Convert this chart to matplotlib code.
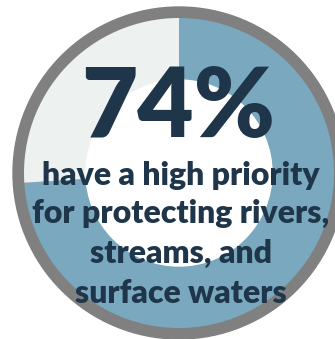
import matplotlib.pyplot as plt
from matplotlib.patches import Circle

# share of respondents
labels = ["High priority", "Other"]
values = [74, 26]
colors = ["#7aa9bf", "#edf1f0"]

headline = "74%"
caption_lines = [
    "have a high priority",
    "for protecting rivers,",
    "streams, and",
    "surface waters",
]

W, H = 335, 339
fig = plt.figure(figsize=(W / 100, H / 100), dpi=100)
ax = fig.add_axes([0, 0, 1, 1])

cx, cy = 179, H - 173
ax.add_patch(Circle((cx, cy), 166, color="#808080", zorder=0))

ax.pie(
    values,
    colors=colors,
    startangle=90,
    counterclock=False,
    center=(cx, cy),
    radius=155,
    wedgeprops={"width": 62, "linewidth": 0},
    frame=True,
)
ax.add_patch(Circle((cx, cy), 93, color="white", zorder=1))
ax.set_xlim(0, W)
ax.set_ylim(0, H)
ax.set_aspect("equal")
ax.axis("off")

navy = "#1f364a"
ax.text(178, H - 137, headline, ha="center", va="baseline", zorder=3,
        fontsize=70, fontweight="heavy", family="Lato", color=navy)

baselines = [185, 223, 263, 303]
for line, y in zip(caption_lines, baselines):
    ax.text(181, H - y, line, ha="center", va="baseline", zorder=3,
            fontsize=23, fontweight="heavy", family="Lato", color=navy)

fig.savefig("out.png", dpi=100)
